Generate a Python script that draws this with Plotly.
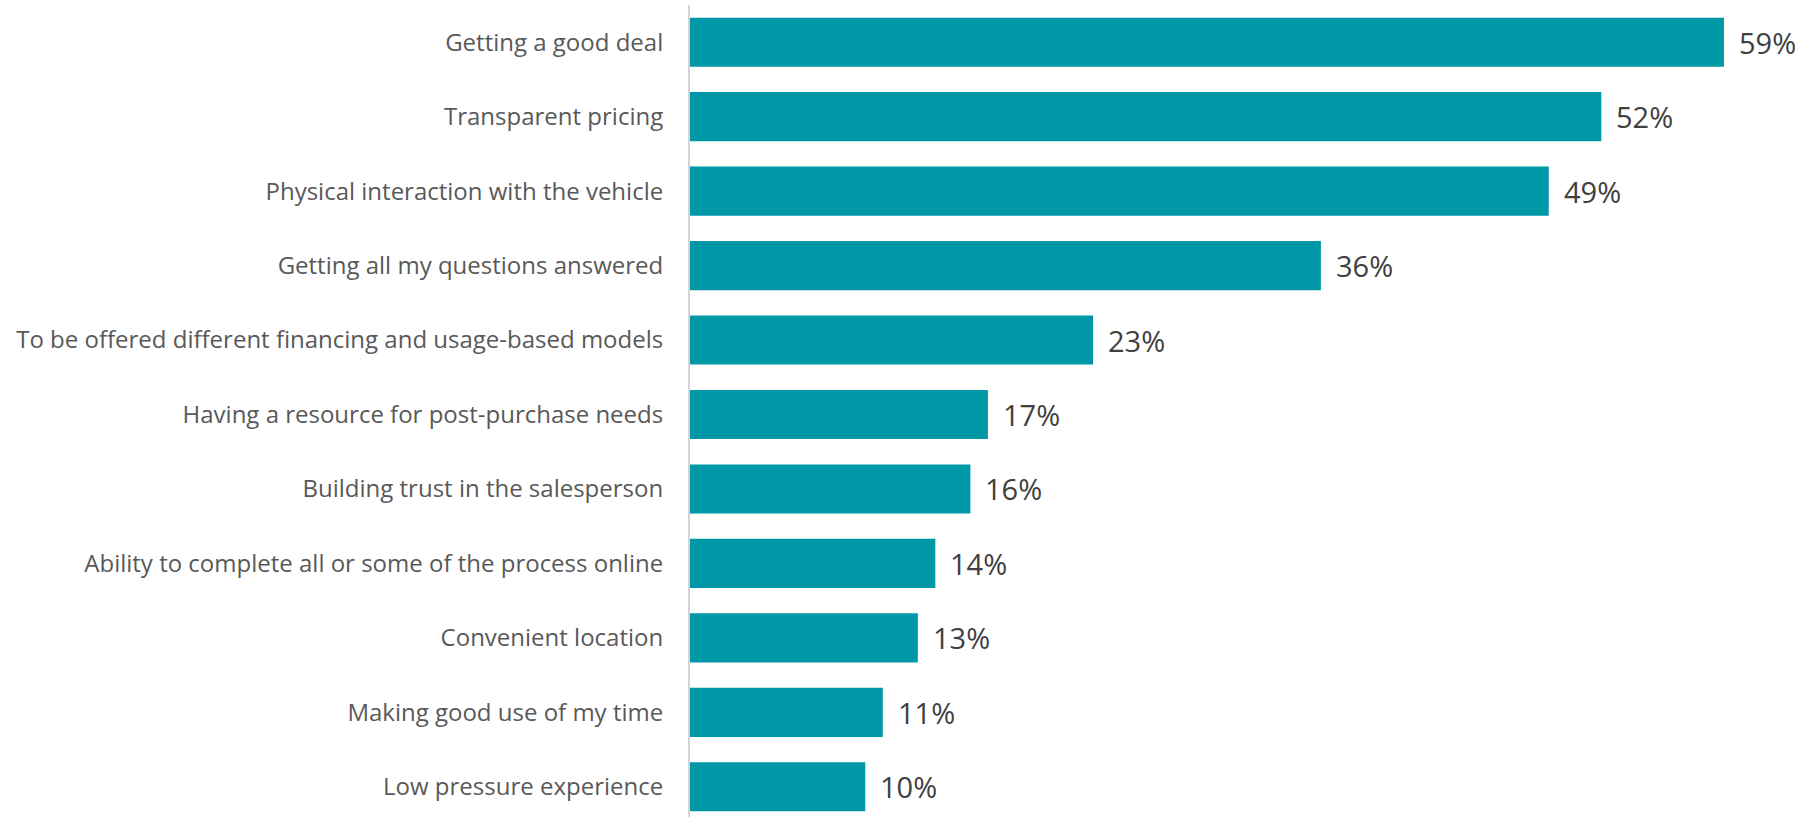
import plotly.graph_objects as go

categories = [
    "Getting a good deal",
    "Transparent pricing",
    "Physical interaction with the vehicle",
    "Getting all my questions answered",
    "To be offered different financing and usage-based models",
    "Having a resource for post-purchase needs",
    "Building trust in the salesperson",
    "Ability to complete all or some of the process online",
    "Convenient location",
    "Making good use of my time",
    "Low pressure experience",
]
values = [59, 52, 49, 36, 23, 17, 16, 14, 13, 11, 10]
value_labels = [f"{v}%" for v in values]

BAR_COLOR = "#0097A7"

fig = go.Figure(
    go.Bar(
        x=values,
        y=categories,
        orientation="h",
        marker=dict(color=BAR_COLOR, line=dict(width=0)),
        hoverinfo="skip",
    )
)

# value labels just right of each bar end
for cat, v, lab in zip(categories, values, value_labels):
    fig.add_annotation(
        x=v, y=cat, text=lab, showarrow=False,
        xanchor="left", yanchor="middle", xshift=13,
        font=dict(family="Open Sans", size=29, color="#404040"),
    )

fig.update_layout(
    width=1813,
    height=817,
    margin=dict(l=690, r=0, t=5, b=0),
    paper_bgcolor="white",
    plot_bgcolor="white",
    bargap=0.34,
    showlegend=False,
    font=dict(family="Open Sans"),
)
fig.update_xaxes(
    range=[0, 64.08],
    visible=False,
    showgrid=False,
    zeroline=False,
)
fig.update_yaxes(
    type="category",
    categoryorder="array",
    categoryarray=categories,
    range=[10.406, -0.5],
    showgrid=False,
    zeroline=False,
    showline=True,
    linecolor="#D4D4D4",
    linewidth=2,
    ticks="",
    ticklabelstandoff=20,
    tickfont=dict(family="Open Sans", size=24, color="#595959"),
)

fig.write_html("out.html")
